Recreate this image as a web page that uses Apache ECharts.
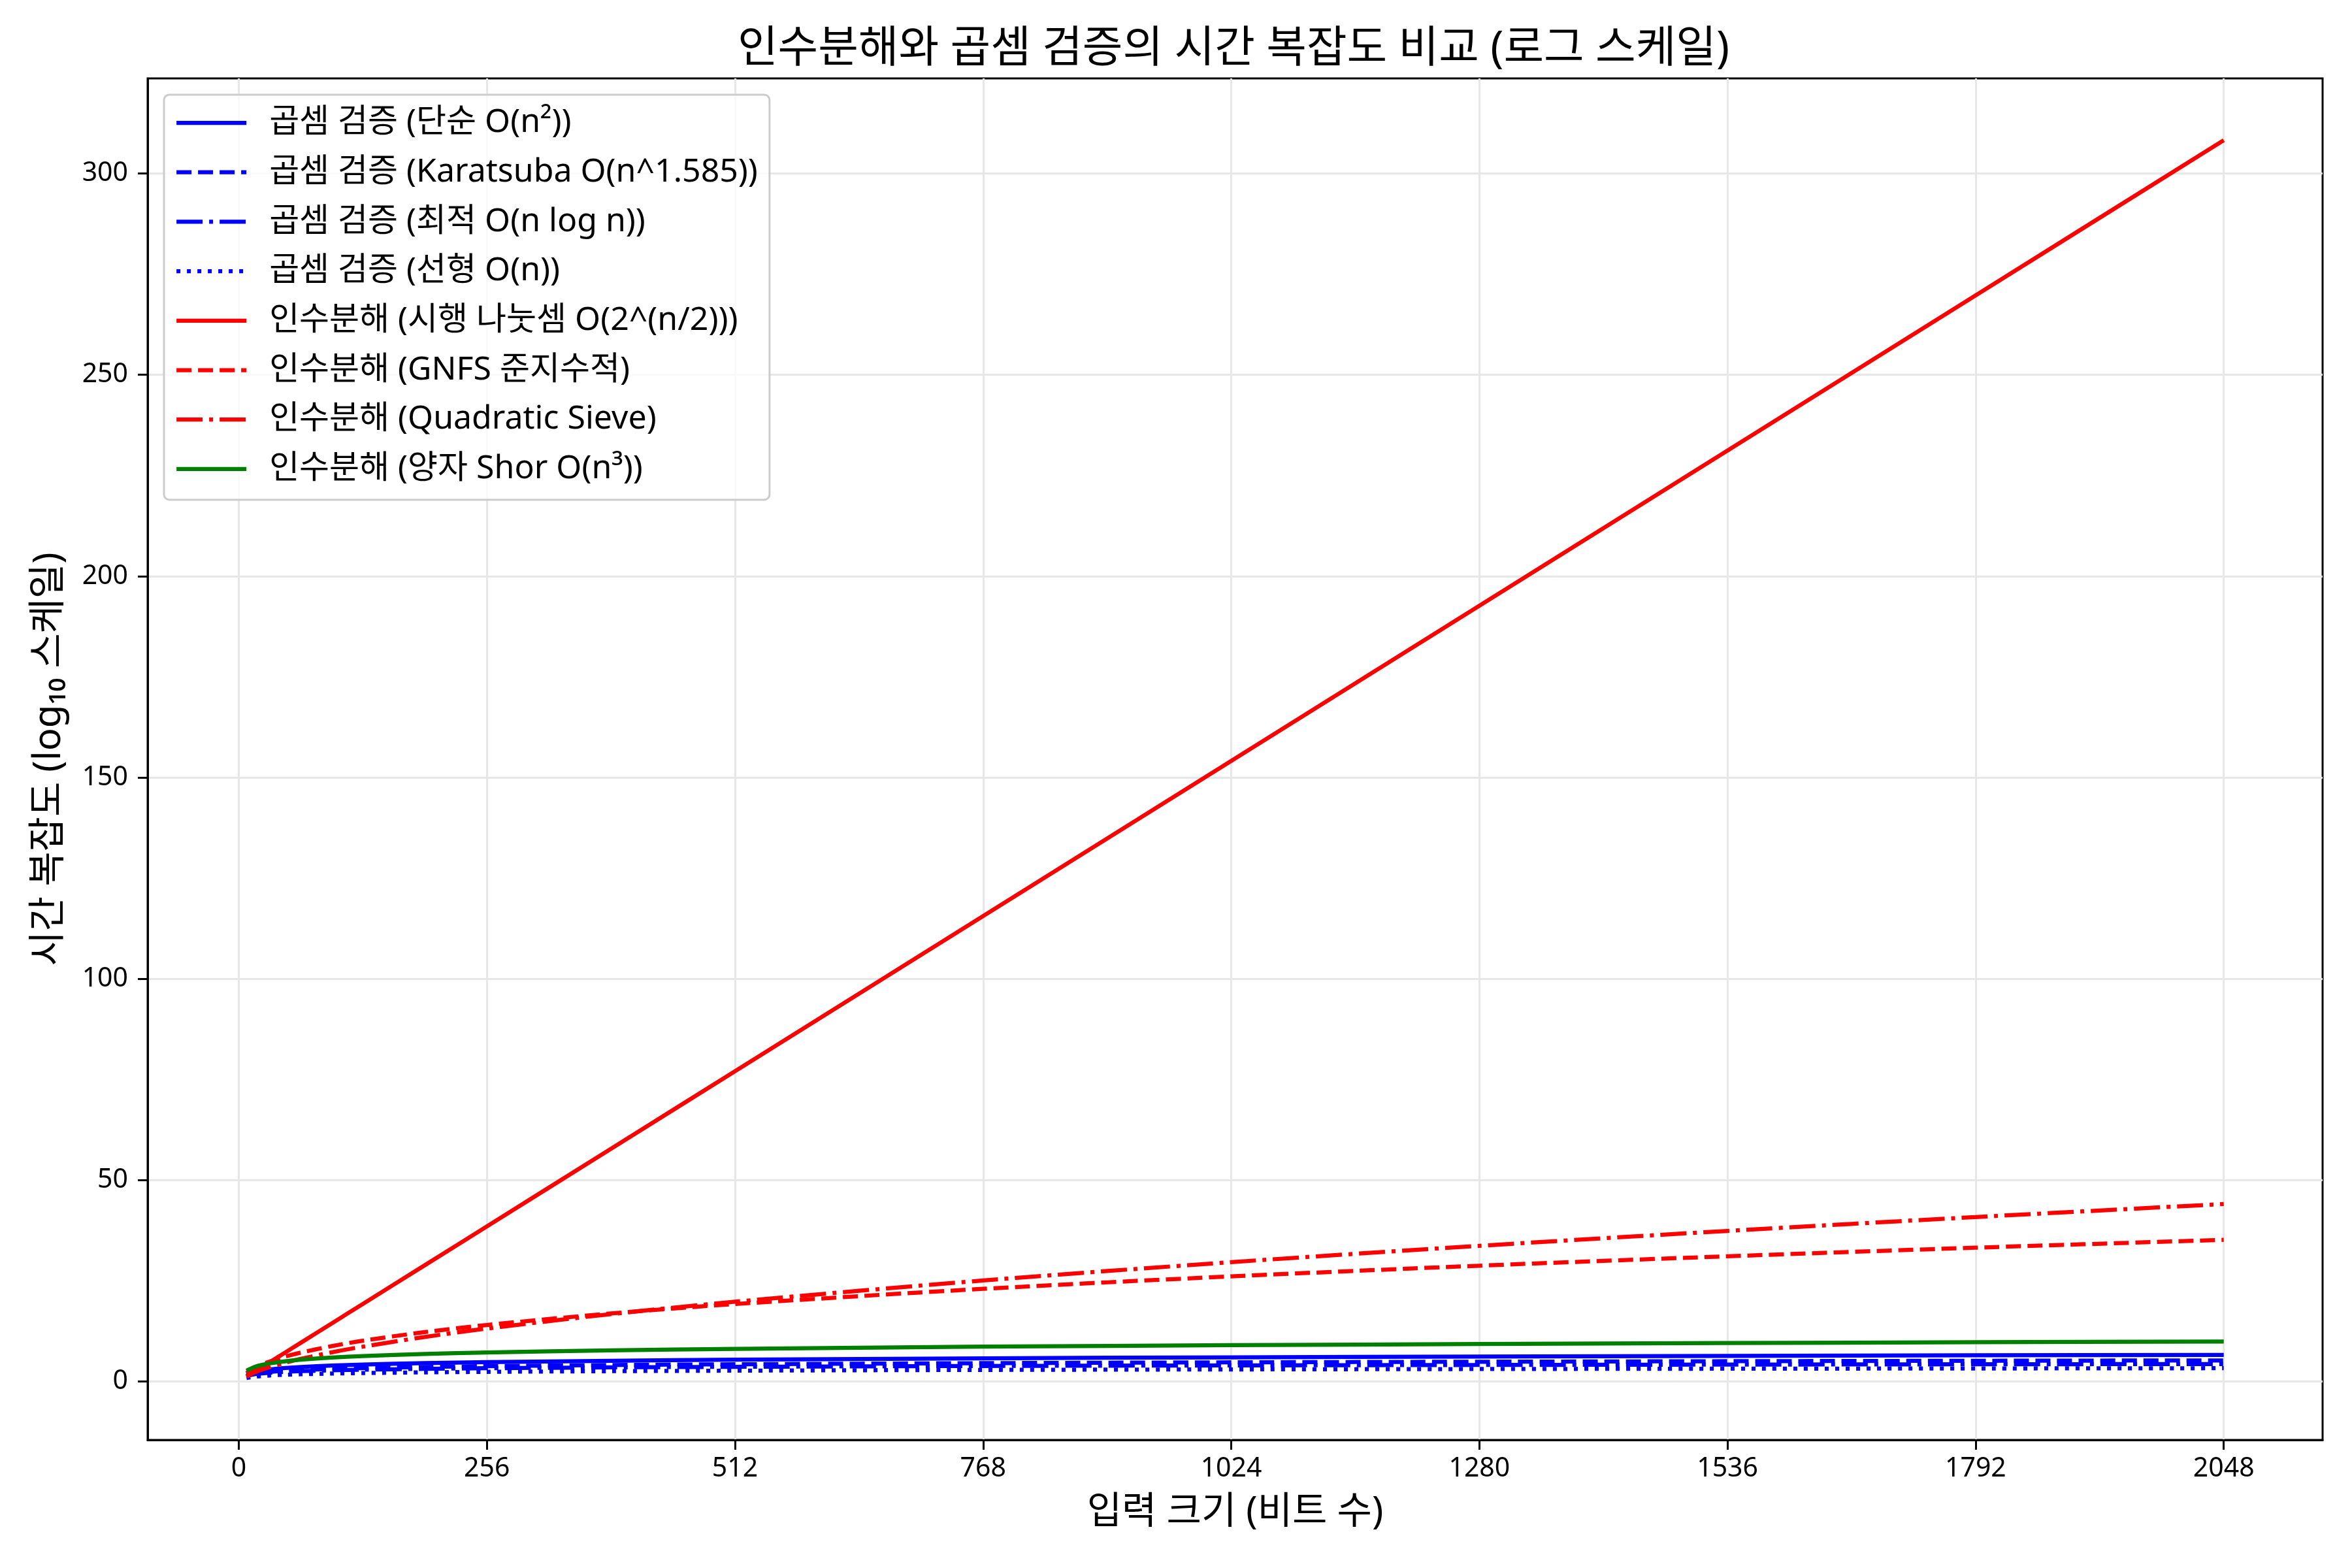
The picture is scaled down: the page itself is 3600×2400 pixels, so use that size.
<!DOCTYPE html>
<html>
<head>
<meta charset="utf-8">
<script src="https://cdn.jsdelivr.net/npm/echarts@6/dist/echarts.min.js"></script>
<style>
  html, body { margin: 0; padding: 0; background: #fff; }
  #main { width: 3600px; height: 2400px; }
</style>
</head>
<body>
<div id="main"></div>
<script>
// input size (bits)
var bits = [8, 16, 24, 32, 48, 64, 96, 128, 192, 256, 384, 512, 768, 1024, 1280, 1536, 1792, 2048];

// log10 of the cost
var mulNaive  = [1.81, 2.41, 2.76, 3.01, 3.36, 3.61, 3.96, 4.21, 4.57, 4.82, 5.17, 5.42, 5.77, 6.02, 6.21, 6.37, 6.51, 6.62];
var mulKara   = [1.43, 1.91, 2.19, 2.39, 2.66, 2.86, 3.14, 3.34, 3.62, 3.82, 4.10, 4.29, 4.57, 4.77, 4.92, 5.05, 5.16, 5.25];
var mulNlogn  = [1.38, 1.81, 2.04, 2.20, 2.43, 2.58, 2.80, 2.95, 3.16, 3.31, 3.52, 3.66, 3.87, 4.01, 4.12, 4.21, 4.29, 4.35];
var mulLinear = [0.90, 1.20, 1.38, 1.51, 1.68, 1.81, 1.98, 2.11, 2.28, 2.41, 2.58, 2.71, 2.89, 3.01, 3.11, 3.19, 3.25, 3.31];
var facTrial  = [1.20, 2.41, 3.61, 4.82, 7.22, 9.63, 14.45, 19.27, 28.90, 38.53, 57.80, 77.06, 115.60, 154.13, 192.66, 231.19, 269.72, 308.25];
var facGnfs   = [2.12, 3.35, 4.25, 4.99, 6.20, 7.19, 8.80, 10.13, 12.29, 14.05, 16.91, 19.24, 23.03, 26.12, 28.77, 31.11, 33.24, 35.19];
var facQs     = [1.34, 2.24, 2.97, 3.60, 4.69, 5.63, 7.26, 8.66, 11.08, 13.16, 16.74, 19.83, 25.10, 29.65, 33.70, 37.41, 40.85, 44.08];
var facShor   = [2.71, 3.61, 4.14, 4.52, 5.04, 5.42, 5.95, 6.32, 6.85, 7.22, 7.75, 8.13, 8.66, 9.03, 9.32, 9.56, 9.76, 9.93];

var xTicks = [0, 256, 512, 768, 1024, 1280, 1536, 1792, 2048];
var yTicks = [0, 50, 100, 150, 200, 250, 300];

var names = [
  '곱셈 검증 (단순 O(n²))',
  '곱셈 검증 (Karatsuba O(n^1.585))',
  '곱셈 검증 (최적 O(n log n))',
  '곱셈 검증 (선형 O(n))',
  '인수분해 (시행 나눗셈 O(2^(n/2)))',
  '인수분해 (GNFS 준지수적)',
  '인수분해 (Quadratic Sieve)',
  '인수분해 (양자 Shor O(n³))'
];

var FONT = '"Noto Sans", "Noto Sans CJK KR", sans-serif';
var LW = 6.25;
var DASHED = [23, 10];
var DASHDOT = [40, 10, 6, 10];
var DOTTED = [6, 10];

function pairs(ys) {
  return bits.map(function (x, i) { return [x, ys[i]]; });
}

function line(name, ys, color, type) {
  return {
    name: name,
    type: 'line',
    data: pairs(ys),
    symbol: 'none',
    showSymbol: false,
    smooth: 0.3,
    lineStyle: { color: color, width: LW, type: type },
    itemStyle: { color: color }
  };
}

var chart = echarts.init(document.getElementById('main'));

var option = {
  animation: false,
  backgroundColor: '#ffffff',
  title: {
    text: '인수분해와 곱셈 검증의 시간 복잡도 비교 (로그 스케일)',
    left: 1883,
    top: 36,
    textAlign: 'center',
    textStyle: { fontFamily: FONT, fontSize: 67, fontWeight: 'normal', color: '#000', lineHeight: 70 }
  },
  grid: {
    left: 226, right: 45, top: 120, bottom: 196,
    show: true, borderColor: '#000', borderWidth: 3, backgroundColor: 'transparent'
  },
  legend: {
    orient: 'vertical',
    left: 251,
    top: 145,
    padding: [18, 18, 22, 16],
    itemWidth: 107,
    itemHeight: 30,
    itemGap: 25.7,
    backgroundColor: 'rgba(255,255,255,0.8)',
    borderColor: '#cccccc',
    borderWidth: 3,
    borderRadius: 8,
    itemStyle: { opacity: 0 },
    lineStyle: { width: LW },
    data: names,
    textStyle: { fontFamily: FONT, fontSize: 50, color: '#000', lineHeight: 50, padding: [0, 0, 0, 30] }
  },
  xAxis: {
    type: 'value',
    min: -94,
    max: 2150,
    name: '입력 크기 (비트 수)',
    nameLocation: 'middle',
    nameGap: 82,
    nameTextStyle: { fontFamily: FONT, fontSize: 58, color: '#000' },
    axisLine: { show: true, onZero: false, lineStyle: { color: '#000', width: 3 } },
    axisTick: { show: true, length: 15, lineStyle: { color: '#000', width: 3 }, customValues: xTicks },
    axisLabel: {
      fontFamily: FONT, fontSize: 41, color: '#000', margin: 24, customValues: xTicks,
      formatter: function (v) { return String(v); }
    },
    splitLine: { show: true, lineStyle: { color: '#e7e7e7', width: 3 } }
  },
  yAxis: {
    type: 'value',
    min: -14.5,
    max: 323.6,
    name: '시간 복잡도 (log₁₀ 스케일)',
    nameLocation: 'middle',
    nameGap: 122,
    nameRotate: 90,
    nameTextStyle: { fontFamily: FONT, fontSize: 58, color: '#000' },
    axisLine: { show: true, onZero: false, lineStyle: { color: '#000', width: 3 } },
    axisTick: { show: true, length: 15, lineStyle: { color: '#000', width: 3 }, customValues: yTicks },
    axisLabel: {
      fontFamily: FONT, fontSize: 41, color: '#000', margin: 30, customValues: yTicks,
      formatter: function (v) { return String(v); }
    },
    splitLine: { show: true, lineStyle: { color: '#e7e7e7', width: 3 } }
  },
  series: [
    line(names[0], mulNaive, '#0000ff', 'solid'),
    line(names[1], mulKara, '#0000ff', DASHED),
    line(names[2], mulNlogn, '#0000ff', DASHDOT),
    line(names[3], mulLinear, '#0000ff', DOTTED),
    line(names[4], facTrial, '#ff0000', 'solid'),
    line(names[5], facGnfs, '#ff0000', DASHED),
    line(names[6], facQs, '#ff0000', DASHDOT),
    line(names[7], facShor, '#008000', 'solid')
  ]
};

chart.setOption(option);
</script>
</body>
</html>
